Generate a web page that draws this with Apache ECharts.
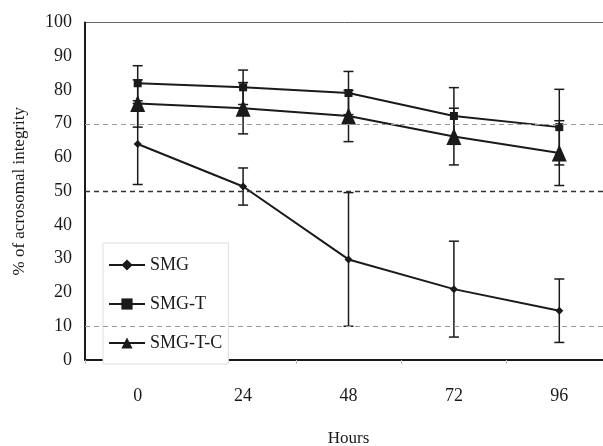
<!DOCTYPE html>
<html>
<head>
<meta charset="utf-8">
<script src="https://cdn.jsdelivr.net/npm/echarts@6/dist/echarts.min.js"></script>
<style>html,body{margin:0;padding:0;background:#fff}#c{width:603px;height:446px}</style>
</head>
<body>
<div id="c"></div>
<script>
var hours = ['0', '24', '48', '72', '96'];
var yTicks = [0, 10, 20, 30, 40, 50, 60, 70, 80, 90, 100];
var smg = [64.0, 51.4, 29.8, 21.0, 14.6];
var smgErr = [12.0, 5.5, 19.8, 14.2, 9.4];
var smgT = [82.0, 80.8, 79.1, 72.3, 69.0];
var smgTErr = [5.2, 5.1, 6.4, 8.4, 11.2];
var smgTC = [76.0, 74.6, 72.3, 66.2, 61.3];
var smgTCErr = [7.0, 7.6, 7.6, 8.4, 9.6];
var refLines = [70, 50, 10];

var FONT = 'Liberation Serif';
var INK = '#1a1a1a';

function errData(vals, errs) {
  return vals.map(function (v, i) { return [i, v - errs[i], v + errs[i]]; });
}
function errSeries(vals, errs) {
  return {
    type: 'custom',
    silent: true,
    z: 1,
    data: errData(vals, errs),
    encode: { x: 0, y: [1, 2] },
    renderItem: function (params, api) {
      var lo = api.coord([api.value(0), api.value(1)]);
      var hi = api.coord([api.value(0), api.value(2)]);
      var w = 5;
      var st = { stroke: INK, lineWidth: 1.5 };
      return {
        type: 'group',
        children: [
          { type: 'line', shape: { x1: lo[0], y1: lo[1], x2: hi[0], y2: hi[1] }, style: st },
          { type: 'line', shape: { x1: lo[0] - w, y1: lo[1], x2: lo[0] + w, y2: lo[1] }, style: st },
          { type: 'line', shape: { x1: hi[0] - w, y1: hi[1], x2: hi[0] + w, y2: hi[1] }, style: st }
        ]
      };
    }
  };
}
function lineSeries(name, vals, symbol, size) {
  return {
    name: name,
    type: 'line',
    data: vals,
    z: 3,
    symbol: symbol,
    symbolSize: size,
    showAllSymbol: true,
    itemStyle: { color: INK },
    lineStyle: { color: INK, width: 2 }
  };
}

var chart = echarts.init(document.getElementById('c'), null, { renderer: 'canvas' });
var smgLine = lineSeries('SMG', smg, 'diamond', 8);
smgLine.markLine = {
  silent: true,
  symbol: 'none',
  label: { show: false },
  data: refLines.map(function (v) {
    return {
      yAxis: v,
      lineStyle: v === 50 ? { color: '#333', type: [5, 4], width: 1.3 } : { color: '#999', type: [5, 4], width: 1 }
    };
  })
};

chart.setOption({
  animation: false,
  backgroundColor: '#fff',
  grid: {
    left: 85, top: 22.5, width: 527, height: 337.5,
    outerBoundsMode: 'none', containLabel: false,
    show: true, borderColor: '#666', borderWidth: 1
  },
  legend: {
    orient: 'vertical',
    left: 103,
    top: 243,
    padding: [13, 6, 12, 5],
    itemGap: 21,
    itemWidth: 36,
    itemHeight: 14,
    borderColor: '#ddd',
    borderWidth: 1,
    backgroundColor: '#fff',
    textStyle: { fontFamily: FONT, fontSize: 18, color: INK },
    data: ['SMG', 'SMG-T', 'SMG-T-C']
  },
  xAxis: {
    type: 'category',
    data: hours,
    boundaryGap: true,
    name: 'Hours',
    nameLocation: 'middle',
    nameGap: 70,
    nameTextStyle: { fontFamily: FONT, fontSize: 17, color: INK },
    axisLine: { lineStyle: { color: INK, width: 2 } },
    axisTick: { show: true, length: 4, lineStyle: { color: '#bbb' } },
    axisLabel: { fontFamily: FONT, fontSize: 18, color: INK, margin: 27 },
    splitLine: { show: false }
  },
  yAxis: {
    type: 'value',
    min: yTicks[0],
    max: yTicks[yTicks.length - 1],
    interval: 10,
    name: '% of acrosomal integrity',
    nameLocation: 'middle',
    nameGap: 57,
    nameTextStyle: { fontFamily: FONT, fontSize: 17, color: INK },
    axisLine: { show: true, lineStyle: { color: INK, width: 2 } },
    axisTick: { show: false },
    axisLabel: { fontFamily: FONT, fontSize: 18, color: INK, margin: 13 },
    splitLine: { show: false }
  },
  series: [
    errSeries(smg, smgErr),
    errSeries(smgT, smgTErr),
    errSeries(smgTC, smgTCErr),
    smgLine,
    lineSeries('SMG-T', smgT, 'rect', 8),
    lineSeries('SMG-T-C', smgTC, 'triangle', [15, 17])
  ]
});
</script>
</body>
</html>
